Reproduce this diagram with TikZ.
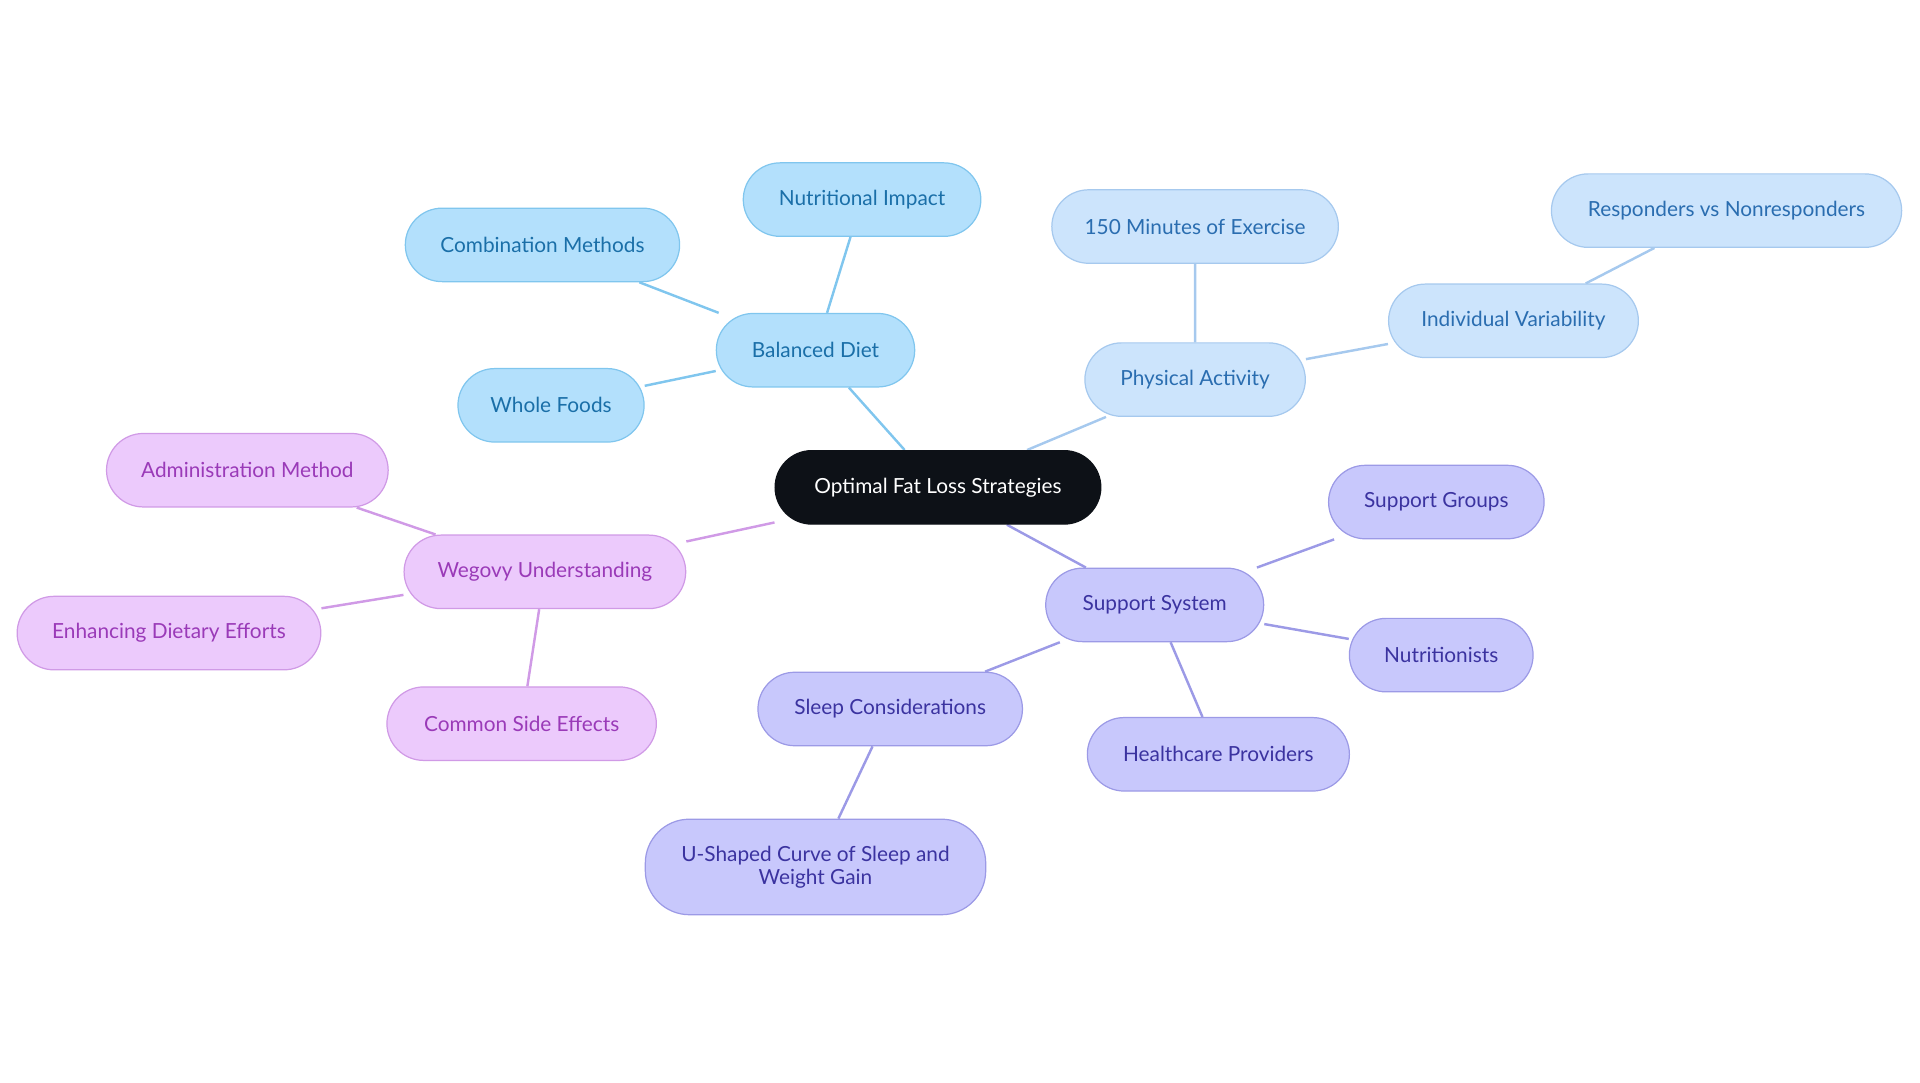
\documentclass[tikz,border=0pt]{standalone}
\usepackage{fontspec}
\setmainfont{Lato}
\usetikzlibrary{backgrounds}
\definecolor{bF}{HTML}{B3E0FC}\definecolor{bD}{HTML}{80C6EE}\definecolor{bT}{HTML}{1A6FA8}
\definecolor{lF}{HTML}{CCE4FC}\definecolor{lD}{HTML}{A6C9EE}\definecolor{lT}{HTML}{2A6DB0}
\definecolor{pF}{HTML}{C8C8FC}\definecolor{pD}{HTML}{9C9AE6}\definecolor{pT}{HTML}{3B33A0}
\definecolor{kF}{HTML}{ECCAFC}\definecolor{kD}{HTML}{D09AE6}\definecolor{kT}{HTML}{9A3AB8}
\definecolor{root}{HTML}{0D1117}
\begin{document}
\begin{tikzpicture}[x=0.5pt,y=-0.5pt,
 box/.style={rounded corners=15pt,minimum height=30pt,line width=0.5pt,align=center,font=\fontsize{8.5pt}{9.5pt}\selectfont,inner sep=0pt},
 bn/.style={box,fill=bF,draw=bD,text=bT},
 ln/.style={box,fill=lF,draw=lD,text=lT},
 pn/.style={box,fill=pF,draw=pD,text=pT},
 kn/.style={box,fill=kF,draw=kD,text=kT},
 e/.style={line width=1pt}]
\useasboundingbox (0,0) rectangle (1568,884);
\node[box,fill=root,draw=root,text=white,minimum width=133pt] (r) at (766,398) {Optimal Fat Loss Strategies};
\node[bn,minimum width=81pt] (bd) at (666,286) {Balanced Diet};
\node[bn,minimum width=97pt] (ni) at (704,163) {Nutritional Impact};
\node[bn,minimum width=112pt] (cm) at (443,200) {Combination Methods};
\node[bn,minimum width=76pt] (wf) at (450,331) {Whole Foods};
\node[ln,minimum width=90pt] (pa) at (976,310) {Physical Activity};
\node[ln,minimum width=117pt] (m150) at (976,185) {150 Minutes of Exercise};
\node[ln,minimum width=102pt] (iv) at (1236,262) {Individual Variability};
\node[ln,minimum width=143pt] (rv) at (1410,172) {Responders vs Nonresponders};
\node[kn,minimum width=115pt] (wu) at (445,467) {Wegovy Understanding};
\node[kn,minimum width=115pt] (am) at (202,384) {Administration Method};
\node[kn,minimum width=124pt] (ed) at (138,517) {Enhancing Dietary Efforts};
\node[kn,minimum width=110pt] (cs) at (426,591) {Common Side Effects};
\node[pn,minimum width=89pt] (ss) at (943,494) {Support System};
\node[pn,minimum width=88pt] (sg) at (1173,410) {Support Groups};
\node[pn,minimum width=75pt] (nu) at (1177,535) {Nutritionists};
\node[pn,minimum width=107pt] (hp) at (995,616) {Healthcare Providers};
\node[pn,minimum width=108pt] (sc) at (727,579) {Sleep Considerations};
\node[pn,minimum width=139pt,minimum height=39pt,rounded corners=18pt] (us) at (666,708) {U-Shaped Curve of Sleep and\\Weight Gain};
\begin{pgfonlayer}{background}
\draw[e,draw=bD] (r)--(bd) (bd)--(ni) (bd)--(cm) (bd)--(wf);
\draw[e,draw=lD] (r)--(pa) (pa)--(m150) (pa)--(iv) (iv)--(rv);
\draw[e,draw=kD] (r)--(wu) (wu)--(am) (wu)--(ed) (wu)--(cs);
\draw[e,draw=pD] (r)--(ss) (ss)--(sg) (ss)--(nu) (ss)--(hp) (ss)--(sc) (sc)--(us);
\end{pgfonlayer}
\end{tikzpicture}
\end{document}
